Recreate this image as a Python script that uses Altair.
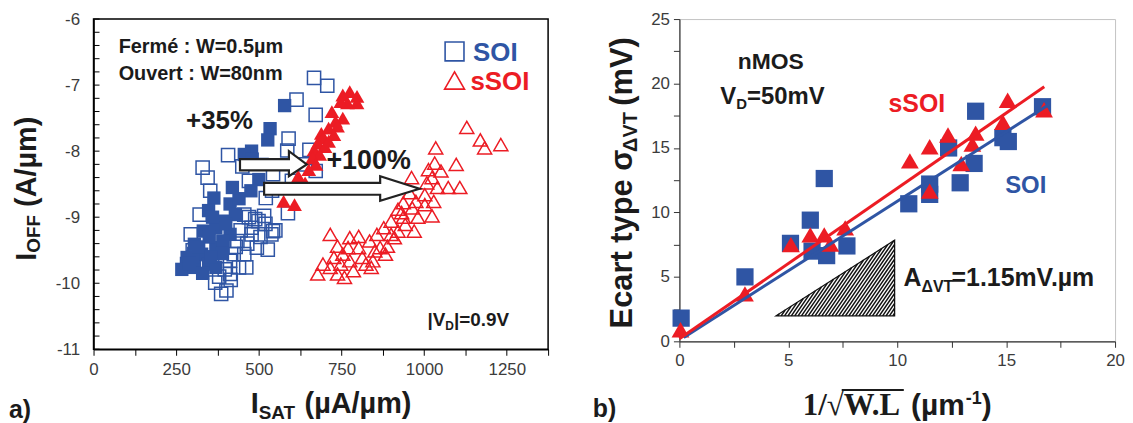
import altair as alt
import pandas as pd

BLUE = "#2F55A4"
RED = "#EC1C24"
INK = "#1b1b1b"
TICK = "#3c3c3c"
SANS = "Liberation Sans"
SERIF = "Liberation Serif"

# ---------------- panel a) data ----------------
SOI_CLOSED_X = [578, 534, 527, 478, 456, 500, 476, 364, 348, 413, 429, 391, 370, 332, 413, 305, 370, 327,
                283, 348, 267, 305, 370, 391, 440, 420, 350, 300, 390, 330, 360, 400, 318, 290, 355, 480, 510]
SOI_CLOSED_Y = [-7.31, -7.66, -7.83, -8.0, -8.05, -8.43, -8.60, -8.71, -8.90, -8.80, -8.96, -9.06, -9.16,
                -9.21, -9.26, -9.41, -9.46, -9.56, -9.61, -9.71, -9.79, -9.76, -9.76, -9.36, -8.72, -8.55,
                -9.3, -9.6, -9.55, -9.85, -9.0, -9.1, -9.45, -9.7, -9.6, -8.12, -8.2]
SOI_OPEN_X = [667, 707, 614, 672, 590, 407, 586, 653, 330, 345, 353, 450, 672, 588, 521, 543, 321, 294, 456,
              489, 516, 543, 478, 435, 494, 527, 456, 413, 462, 413, 368, 386, 402, 305, 283, 478, 538, 359,
              424, 440, 499, 397, 520, 470, 445, 505, 550, 430, 465, 380, 300, 415, 600, 640, 470, 540]
SOI_OPEN_Y = [-6.89, -7.01, -7.22, -7.45, -7.81, -8.06, -7.99, -7.98, -8.25, -8.40, -8.60, -8.23, -8.30,
              -8.94, -8.71, -8.35, -8.96, -9.26, -8.96, -9.03, -8.98, -9.21, -9.26, -9.36, -9.46, -9.49,
              -9.56, -9.66, -9.76, -9.86, -9.99, -10.16, -10.11, -9.56, -9.71, -9.16, -9.26, -9.61, -9.56,
              -9.76, -9.06, -9.79, -9.1, -9.0, -9.2, -9.3, -9.2, -9.45, -9.4, -9.9, -9.5, -9.95, -8.45,
              -8.2, -8.45, -8.6]
SSOI_CLOSED_X = [775, 797, 754, 768, 797, 748, 721, 754, 732, 738, 711, 689, 727, 694, 678, 700, 667, 684,
                 662, 673, 651, 619, 640, 608, 575, 608, 711]
SSOI_CLOSED_Y = [-7.10, -7.17, -7.15, -7.27, -7.27, -7.25, -7.40, -7.50, -7.55, -7.62, -7.65, -7.73, -7.75,
                 -7.80, -7.88, -7.93, -7.98, -8.05, -8.10, -8.20, -8.28, -8.38, -8.48, -8.56, -8.76, -8.81,
                 -7.85]
SSOI_OPEN_X = [1129, 1170, 1183, 1232, 1035, 1097, 1032, 1013, 1051, 962, 1024, 1073, 1108, 1040, 1008, 956,
               1002, 975, 1029, 937, 1002, 921, 964, 1024, 981, 937, 900, 970, 921, 878, 857, 910, 889, 835,
               802, 851, 813, 775, 716, 775, 802, 738, 754, 727, 748, 694, 678, 738, 759, 786, 824, 845, 867,
               883, 840, 716, 770, 900, 943, 932]
SSOI_OPEN_Y = [-7.64, -7.83, -7.95, -7.90, -7.95, -8.20, -8.18, -8.28, -8.30, -8.40, -8.40, -8.55, -8.55,
               -8.55, -8.48, -8.63, -8.66, -8.76, -8.76, -8.78, -8.81, -8.88, -8.86, -8.98, -9.00, -9.00,
               -9.06, -9.21, -9.21, -9.16, -9.26, -9.31, -9.44, -9.36, -9.46, -9.51, -9.61, -9.66, -9.26,
               -9.31, -9.29, -9.44, -9.56, -9.61, -9.71, -9.71, -9.86, -9.86, -9.91, -9.81, -9.71, -9.66,
               -9.46, -9.56, -9.76, -9.76, -9.46, -9.26, -9.11, -8.93]

ARROW1_X = [443, 591, 591, 645, 591, 591, 443]
ARROW1_Y = [-8.12, -8.12, -8.0, -8.2, -8.38, -8.29, -8.29]
ARROW2_X = [516, 867, 867, 986, 867, 867, 516]
ARROW2_Y = [-8.48, -8.48, -8.38, -8.57, -8.75, -8.66, -8.66]

# ---------------- panel b) data ----------------
B_SOI_X = [0.08, 3.01, 5.1, 6.01, 6.65, 6.09, 6.76, 7.69, 10.53, 11.49, 11.49, 12.36, 12.89, 13.53, 13.6,
           14.85, 15.1, 16.67]
B_SOI_Y = [1.8, 5.0, 7.6, 9.4, 12.63, 7.0, 6.65, 7.4, 10.67, 11.4, 12.2, 15.0, 12.3, 13.8, 17.85, 15.8,
           15.5, 18.2]
B_SSOI_X = [0.05, 3.01, 5.12, 6.01, 6.65, 6.93, 7.61, 10.58, 11.49, 11.49, 12.33, 12.94, 13.6, 13.45,
            14.85, 15.07, 16.74]
B_SSOI_Y = [0.9, 3.68, 7.5, 8.26, 8.26, 7.54, 8.8, 14.0, 15.1, 11.65, 16.0, 13.8, 16.15, 15.3, 17.0, 18.7,
            17.96]
FIT_SOI_X = [0.2, 16.9]
FIT_SOI_Y = [0.3, 18.3]
FIT_SSOI_X = [0.0, 16.75]
FIT_SSOI_Y = [0.2, 19.75]
TRI_X = [4.44, 9.88, 9.88]
TRI_Y = [1.98, 1.98, 7.84]

# ---------------- layout ----------------
A_W, A_H = 457, 332
B_W, B_H = 438, 324
A_XDOM, A_YDOM = [0, 1375], [-11, -6]
B_XDOM, B_YDOM = [0, 20], [0, 25]
A_XTICKS = [i * 125 for i in range(12)]
A_YTICKS = [round(-11 + 0.2 * i, 1) for i in range(26)]
B_XTICKS = [i * 2.5 for i in range(9)]
B_YTICKS = [i * 2.5 for i in range(11)]

EM = {' ': .278, '!': .333, '%': .889, '(': .333, ')': .333, '+': .584, '-': .333, '.': .278, '/': .278,
      ':': .333, '=': .584, '|': .280, 'A': .722, 'D': .722, 'E': .667, 'F': .611, 'I': .278, 'L': .611,
      'M': .833, 'O': .778, 'S': .667, 'T': .611, 'V': .667, 'W': .944, 'a': .556, 'c': .556, 'e': .556,
      'é': .556, 'm': .889, 'n': .611, 'p': .611, 'r': .389, 's': .556, 't': .333, 'u': .611, 'v': .556,
      'y': .556, 'µ': .611, 'Δ': .612, 'σ': .611, 'b': .611}
for d in "0123456789":
    EM[d] = .556
EM_SERIF = {'1': .5, '/': .278, '√': .549, 'W': 1.0, '.': .25, 'L': .667, ' ': .25}


def tw(s, size, font=SANS):
    table = EM_SERIF if font == SERIF else EM
    return sum(table.get(c, .6) for c in s) * size


def split_lead(t):
    body = t.lstrip(" ")
    return t[:len(t) - len(body)], body


ONE = pd.DataFrame({"k": [0]})

AX = {}


def enc_x(dom, key):
    return alt.X("x:Q", scale=alt.Scale(domain=dom, nice=False, zero=False), axis=AX[key + "x"])


def enc_y(dom, key):
    return alt.Y("y:Q", scale=alt.Scale(domain=dom, nice=False, zero=False), axis=AX[key + "y"])


def rich_data(pieces, x, y, key, xd, yd, color, center=False):
    total = sum(tw(t, s) for t, s, _ in pieces)
    off = -total / 2 if center else 0
    base_dy = 0.36 * max(s for _, s, _ in pieces)
    out = []
    for t, s, sh in pieces:
        lead, body = split_lead(t)
        out.append(alt.Chart(pd.DataFrame({"x": [x], "y": [y]})).mark_text(
            text=body, align="left", baseline="alphabetic", dx=off + tw(lead, s), dy=base_dy + sh,
            font=SANS, fontWeight="bold", fontSize=s, color=color).encode(
            x=enc_x(xd, key), y=enc_y(yd, key)))
        off += tw(t, s)
    return out


def rich_px(pieces, x, y, angle=0, color=INK):
    out = []
    pos = 0
    for t, s, sh, f in pieces:
        lead, body = split_lead(t)
        p = pos + tw(lead, s, f)
        if angle == 0:
            px, py = x + p, y + sh
        else:
            px, py = x + sh, y - p
        out.append(alt.Chart(ONE).mark_text(
            text=body, align="left", baseline="alphabetic", angle=angle, font=f, fontWeight="bold",
            fontSize=s, color=color).encode(x=alt.value(px), y=alt.value(py)))
        pos += tw(t, s, f)
    return out


# ================= axes =================
AX["ax"] = alt.Axis(values=A_XTICKS, labelExpr="datum.value % 250 === 0 ? '' + datum.value : ''",
                    tickSize=6, tickColor="black", tickWidth=1, domainColor="black", domainWidth=1.5,
                    labelFont=SANS, labelFontSize=17, labelColor=TICK, labelPadding=6, grid=False,
                    title=None, labelFlush=False, labelOverlap=False)
AX["ay"] = alt.Axis(values=A_YTICKS, labelExpr="datum.value % 1 === 0 ? '' + datum.value : ''",
                    ticks=False, domainColor="black", domainWidth=1.5, labelFont=SANS, labelFontSize=17,
                    labelColor=TICK, labelPadding=14, grid=False, title=None, labelFlush=False,
                    labelOverlap=False)
AX["bx"] = alt.Axis(values=B_XTICKS, labelExpr="datum.value % 5 === 0 ? '' + datum.value : ''",
                    tickSize=6, tickColor="#333333", domainColor="#333333", domainWidth=1.2,
                    labelFont=SANS, labelFontSize=17, labelColor=TICK, labelPadding=5, grid=False,
                    title=None, labelFlush=False, labelOverlap=False)
AX["by"] = alt.Axis(values=B_YTICKS, labelExpr="datum.value % 5 === 0 ? '' + datum.value : ''",
                    tickSize=6, tickColor="#333333", domainColor="#333333", domainWidth=1.2,
                    labelFont=SANS, labelFontSize=17, labelColor=TICK, labelPadding=4, grid=False,
                    title=None, labelFlush=False, labelOverlap=False)

# ================= panel a =================
XA = lambda: enc_x(A_XDOM, "a")
YA = lambda: enc_y(A_YDOM, "a")

a_layers = []
a_layers.append(alt.Chart(pd.DataFrame({"x": SOI_OPEN_X, "y": SOI_OPEN_Y})).mark_point(
    shape="square", filled=False, size=175, strokeWidth=1.5, color=BLUE, opacity=1).encode(x=XA(), y=YA()))
a_layers.append(alt.Chart(pd.DataFrame({"x": SOI_CLOSED_X, "y": SOI_CLOSED_Y})).mark_point(
    shape="square", filled=True, size=180, color=BLUE, opacity=1).encode(x=XA(), y=YA()))
a_layers.append(alt.Chart(pd.DataFrame({"x": SSOI_OPEN_X, "y": SSOI_OPEN_Y})).mark_point(
    shape="triangle-up", filled=False, size=200, strokeWidth=1.5, color=RED, opacity=1).encode(x=XA(), y=YA()))
a_layers.append(alt.Chart(pd.DataFrame({"x": SSOI_CLOSED_X, "y": SSOI_CLOSED_Y})).mark_point(
    shape="triangle-up", filled=True, size=220, color=RED, opacity=1).encode(x=XA(), y=YA()))
# inward y ticks
a_layers.append(alt.Chart(pd.DataFrame({"y": A_YTICKS})).mark_rule(color="black", strokeWidth=1).encode(
    y=YA(), x=alt.value(0), x2=alt.value(6)))
# arrows
for ax_, ay_ in [(ARROW1_X, ARROW1_Y), (ARROW2_X, ARROW2_Y)]:
    df = pd.DataFrame({"x": ax_, "y": ay_, "i": list(range(len(ax_)))})
    a_layers.append(alt.Chart(df).mark_line(interpolate="linear-closed", fill="white", stroke="#222222",
                                            strokeWidth=2.2, strokeJoin="miter").encode(
        x=XA(), y=YA(), order="i:Q"))
# legend symbols
a_layers.append(alt.Chart(pd.DataFrame({"x": [1092], "y": [-6.49]})).mark_point(
    shape="square", filled=False, size=360, strokeWidth=1.6, color=BLUE, opacity=1).encode(x=XA(), y=YA()))
a_layers.append(alt.Chart(pd.DataFrame({"x": [1092], "y": [-6.93]})).mark_point(
    shape="triangle-up", filled=False, size=400, strokeWidth=1.6, color=RED, opacity=1).encode(x=XA(), y=YA()))
a_layers += rich_data([("SOI", 26, 0)], 1148, -6.49, "a", A_XDOM, A_YDOM, BLUE)
a_layers += rich_data([("sSOI", 26, 0)], 1140, -6.93, "a", A_XDOM, A_YDOM, RED)
a_layers += rich_data([("Fermé : W=0.5µm", 20, 0)], 76, -6.41, "a", A_XDOM, A_YDOM, INK)
a_layers += rich_data([("Ouvert : W=80nm", 20, 0)], 76, -6.82, "a", A_XDOM, A_YDOM, INK)
a_layers += rich_data([("+35%", 26, 0)], 381, -7.52, "a", A_XDOM, A_YDOM, INK, center=True)
a_layers += rich_data([("+100%", 27, 0)], 832, -8.13, "a", A_XDOM, A_YDOM, INK, center=True)
a_layers += rich_data([("|V", 19, 0), ("D", 12, 4), ("|=0.9V", 19, 0)], 1010, -10.54, "a",
                      A_XDOM, A_YDOM, INK)
# axis titles
a_layers += rich_px([("I", 29, 0, SANS), ("OFF", 19, 4, SANS), (" (A/µm)", 29, 0, SANS)],
                    -58, 243, angle=270)
a_layers += rich_px([("I", 29, 0, SANS), ("SAT", 19, 6, SANS), (" (µA/µm)", 29, 0, SANS)],
                    158, A_H + 64)
a_layers += rich_px([("a)", 25, 0, SANS)], -85, A_H + 69)

panel_a = alt.layer(*a_layers).properties(
    width=A_W, height=A_H, view=alt.ViewBackground(stroke="black", strokeWidth=1.5))

# ================= panel b =================
XB = lambda: enc_x(B_XDOM, "b")
YB = lambda: enc_y(B_YDOM, "b")

b_layers = []
# hatched triangle (stripes derived from the triangle geometry)
sx = B_W / (B_XDOM[1] - B_XDOM[0])
sy = B_H / (B_YDOM[1] - B_YDOM[0])
Wp = (TRI_X[1] - TRI_X[0]) * sx
Hp = (TRI_Y[2] - TRI_Y[0]) * sy
k = Hp / Wp
slope, period = 1.45, 3.4
hx, hy, hx2, hy2 = [], [], [], []
a = period / 2
while a < Wp:
    t = k * a / (slope - k)
    if a + t > Wp:
        t = Wp - a
    hx.append(TRI_X[0] + a / sx)
    hy.append(TRI_Y[0])
    hx2.append(TRI_X[0] + (a + t) / sx)
    hy2.append(TRI_Y[0] + slope * t / sy)
    a += period
b_layers.append(alt.Chart(pd.DataFrame({"x": hx, "y": hy, "x2": hx2, "y2": hy2})).mark_rule(
    color="#111111", strokeWidth=1.5).encode(x=XB(), y=YB(), x2="x2:Q", y2="y2:Q"))
b_layers.append(alt.Chart(pd.DataFrame({"x": TRI_X, "y": TRI_Y, "i": [0, 1, 2]})).mark_line(
    interpolate="linear-closed", color="#111111", strokeWidth=1.3).encode(x=XB(), y=YB(), order="i:Q"))

b_layers.append(alt.Chart(pd.DataFrame({"x": B_SOI_X, "y": B_SOI_Y})).mark_point(
    shape="square", filled=True, size=300, color=BLUE, opacity=1).encode(x=XB(), y=YB()))
b_layers.append(alt.Chart(pd.DataFrame({"x": B_SSOI_X, "y": B_SSOI_Y})).mark_point(
    shape="triangle-up", filled=True, size=320, color=RED, opacity=1).encode(x=XB(), y=YB()))
b_layers.append(alt.Chart(pd.DataFrame({"x": FIT_SOI_X, "y": FIT_SOI_Y})).mark_line(
    color=BLUE, strokeWidth=3).encode(x=XB(), y=YB()))
b_layers.append(alt.Chart(pd.DataFrame({"x": FIT_SSOI_X, "y": FIT_SSOI_Y})).mark_line(
    color=RED, strokeWidth=3).encode(x=XB(), y=YB()))

b_layers += rich_data([("nMOS", 23, 0)], 4.2, 21.75, "b", B_XDOM, B_YDOM, INK, center=True)
b_layers += rich_data([("V", 24, 0), ("D", 15, 5), ("=50mV", 24, 0)], 1.88, 19.1, "b",
                      B_XDOM, B_YDOM, INK)
b_layers += rich_data([("sSOI", 25, 0)], 10.9, 18.5, "b", B_XDOM, B_YDOM, RED, center=True)
b_layers += rich_data([("SOI", 24, 0)], 15.9, 12.2, "b", B_XDOM, B_YDOM, BLUE, center=True)
b_layers += rich_data([("A", 25, 0), ("ΔVT", 16, 6), ("=1.15mV.µm", 25, 0)], 10.29, 4.95, "b",
                      B_XDOM, B_YDOM, INK)
# axis titles
b_layers += rich_px([("Ecart type σ", 31, 0, SANS), ("ΔVT", 20, 5, SANS), (" (mV)", 31, 0, SANS)],
                    -48, 311, angle=270)
xt_pieces = [("1/√W.L", 31, 0, SERIF), (" (µm", 30, 0, SANS), ("-1", 18, -11, SANS), (")", 30, 0, SANS)]
xt_total = sum(tw(t, s, f) for t, s, _, f in xt_pieces)
xt_start = B_W / 2 - xt_total / 2
xt_base = B_H + 74
b_layers += rich_px(xt_pieces, xt_start, xt_base)
ol_x1 = xt_start + tw("1/√", 31, SERIF)
ol_x2 = xt_start + tw("1/√W.L", 31, SERIF)
b_layers.append(alt.Chart(ONE).mark_rule(color=INK, strokeWidth=2).encode(
    x=alt.value(ol_x1 - 2), x2=alt.value(ol_x2 + 1), y=alt.value(xt_base - 25)))
b_layers += rich_px([("b)", 25, 0, SANS)], -87, B_H + 76)

panel_b = alt.layer(*b_layers).properties(
    width=B_W, height=B_H, view=alt.ViewBackground(stroke="#c4c4c4", strokeWidth=1))

chart = alt.hconcat(panel_a, panel_b, spacing=42).properties(padding=0).configure(font=SANS)

chart.save("out.html", embed_options={"renderer": "svg", "actions": False})
